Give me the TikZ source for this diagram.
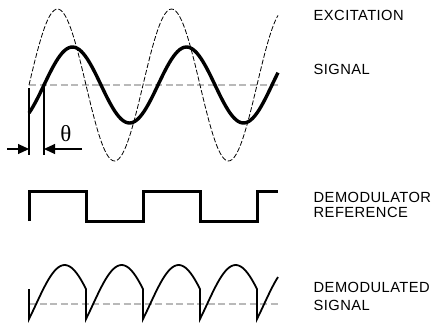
\documentclass[tikz,border=0pt]{standalone}
\usepackage{fontspec}
\usepackage{xcolor}
\usepackage{tikz}
\usetikzlibrary{arrows.meta}
\newfontfamily\lblfont{Liberation Sans}[LetterSpace=3]
\newfontfamily\grkfont{Liberation Serif}
\definecolor{midgray}{RGB}{185,185,185}

\begin{document}
\begin{tikzpicture}[
    x=1pt, y=-1pt,
    >={Triangle[length=11pt,width=10pt]},
    zeroline/.style={midgray, line width=1.3pt, dash pattern=on 7pt off 3.5pt},
    excwave/.style={line width=0.8pt, dash pattern=on 5pt off 2pt},
    sigwave/.style={line width=3.4pt},
    refwave/.style={line width=3pt, line join=miter},
    demodwave/.style={line width=1.8pt},
    marker/.style={line width=1.1pt},
    lbl/.style={anchor=base west, inner sep=0pt,
        font=\lblfont\fontsize{14.7}{15.5}\selectfont}
]
\useasboundingbox (0,0) rectangle (438,322);

%-------------------------
% Excitation and signal
%-------------------------
\draw[zeroline] (29,85) -- (278,85);
\draw[excwave] plot[domain=29:278, samples=120, smooth]
    (\x, {85-76*sin((\x-29)*3.15789)});
\draw[sigwave] plot[domain=29:278, samples=120, smooth]
    (\x, {85-38*sin((\x-44)*3.15789)});

% Phase markers
\coordinate (mkA) at (29,88);
\coordinate (mkB) at (44,85);
\coordinate (mkAb) at (29,155);
\coordinate (mkBb) at (44,155);
\draw[marker] (mkA) -- (mkAb);
\draw[marker] (mkB) -- (mkBb);

% Arrows and theta
\coordinate (arrL) at (7,149);
\coordinate (arrR) at (82,149);
\draw[marker, ->] (arrL) -- (mkA |- arrL);
\draw[marker, ->] (arrR) -- (mkB |- arrR);
\node[inner sep=0pt, font=\grkfont\fontsize{23}{23}\selectfont] (theta) at (66,134) {θ};

%-------------------------
% Demodulator reference
%-------------------------
\draw[refwave] (29,221) -- (29,191) -- (86,191) -- (86,221) -- (143,221)
    -- (143,191) -- (200,191) -- (200,221) -- (257,221) -- (257,191) -- (278,191);

%-------------------------
% Demodulated signal
%-------------------------
\draw[zeroline] (29,304) -- (278,304);
\draw[demodwave] (29,289)
    \foreach \a/\b in {29/86,86/143,143/200,200/257,257/278} {
        -- plot[domain=\a:\b, samples=30, smooth]
            (\x, {304-39*sin((\x-\a)*3.15789-22.6)})
    };

%-------------------------
% Labels
%-------------------------
\node[lbl] (excl) at (313.5,20.5) {EXCITATION};
\node[lbl] (sigl) at (313.5,74) {SIGNAL};
\node[lbl] (refl) at (313.5,202) {DEMODULATOR};
\node[lbl] (refl2) at (313.5,217.5) {REFERENCE};
\node[lbl] (dml) at (313.5,292.5) {DEMODULATED};
\node[lbl] (dml2) at (313.5,310.5) {SIGNAL};
\end{tikzpicture}
\end{document}
